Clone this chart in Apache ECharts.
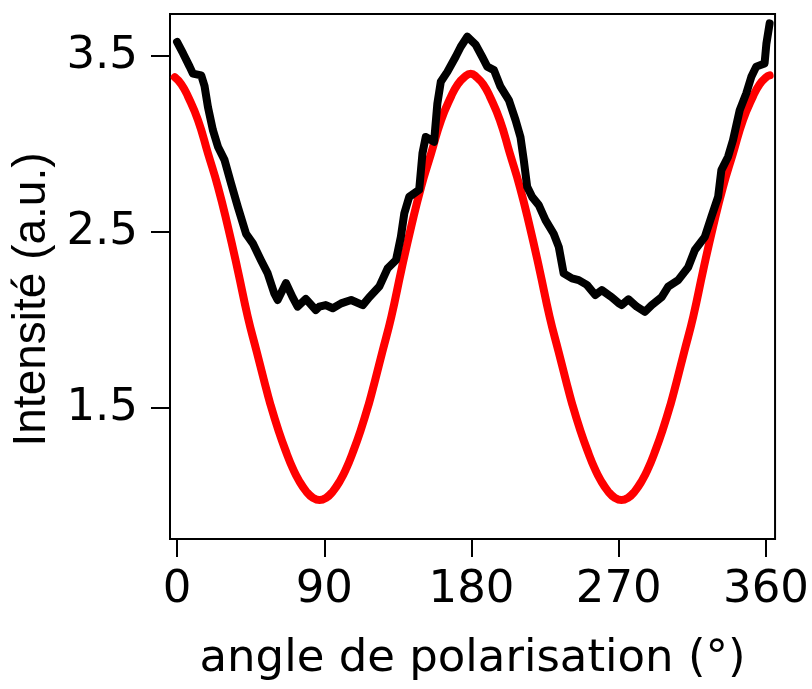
<!DOCTYPE html>
<html>
<head>
<meta charset="utf-8">
<script src="https://cdn.jsdelivr.net/npm/echarts@6/dist/echarts.min.js"></script>
<style>
html,body{margin:0;padding:0;background:#fff;}
#chart{width:812px;height:689px;}
</style>
</head>
<body>
<div id="chart"></div>
<script>
var xTicks = [0, 90, 180, 270, 360];
var yTicks = [1.5, 2.5, 3.5];

var redAngles = [-1.4,2.6,6.7,12.8,18.9,25,31.1,37.1,43.2,48.7,53.1,57.1,62.1,67.1,70.6,74.4,79.1,83.1,87.1,
  91.1,95.1,99.8,103.6,107.1,112.1,117.1,121.1,125.5,131,137.1,143.1,149.2,155.3,161.4,167.5,171.6,175.6,179.5,
  183.1,187.1,191.2,197.3,203.4,209.5,215.6,221.6,227.7,233.2,237.6,241.6,246.6,251.6,255.1,258.9,263.6,267.6,271.6,
  275.6,279.6,284.3,288.1,291.6,296.6,301.6,305.6,310,315.5,321.6,327.6,333.7,339.8,345.9,352,356.1,360.1,362.2];
var redValues = [3.38,3.34,3.27,3.136,2.947,2.757,2.53,2.284,2.02,1.82,1.66,1.52,1.37,1.24,1.16,1.09,1.025,0.99,0.977,
  0.99,1.025,1.09,1.16,1.24,1.37,1.52,1.66,1.82,2.02,2.284,2.53,2.757,2.947,3.136,3.27,3.34,3.38,3.40,
  3.38,3.34,3.27,3.136,2.947,2.757,2.53,2.284,2.02,1.82,1.66,1.52,1.37,1.24,1.16,1.09,1.025,0.99,0.977,
  0.99,1.025,1.09,1.16,1.24,1.37,1.52,1.66,1.82,2.02,2.284,2.53,2.757,2.947,3.136,3.27,3.34,3.38,3.39];

var blackAngles = [0,3.7,7.7,9.7,14.8,16.8,18.9,21.9,25,29,33,37.1,42.2,46.3,51.3,55.4,59.5,61.5,66.6,70.6,73.7,78.7,84.8,87,90.9,
  95.2,100.3,106.4,113.5,117.5,123.6,128.7,133.8,136.8,138.9,141.9,148,150,152,157.1,159.1,161.2,165.2,170.3,173.4,177.4,
  182.5,186.5,189.6,193.7,197.7,202.8,206.9,209.9,211.9,214,217,221.1,225.2,230.2,233.3,236.3,241.4,245.5,250.5,255.6,259.6,265.7,270,
  271.8,275.9,281,286,290.1,296.2,300.2,306.3,312.4,316.5,322.6,326.6,330.7,332.7,336.8,339.8,343.9,347.9,351,354,359.1,360.2,362.2];
var blackValues = [3.58,3.515,3.44,3.40,3.39,3.33,3.21,3.08,2.985,2.91,2.777,2.644,2.49,2.436,2.34,2.265,2.15,2.114,2.21,2.13,2.076,2.12,2.057,2.076,2.085,
  2.067,2.095,2.114,2.085,2.13,2.19,2.294,2.34,2.473,2.606,2.70,2.74,2.947,3.04,3.013,3.23,3.354,3.41,3.496,3.553,3.61,
  3.565,3.496,3.44,3.42,3.326,3.25,3.136,3.04,2.91,2.757,2.70,2.653,2.568,2.49,2.416,2.265,2.237,2.227,2.20,2.142,2.17,2.13,2.095,
  2.085,2.118,2.076,2.047,2.085,2.13,2.19,2.227,2.30,2.398,2.473,2.587,2.70,2.852,2.928,3.023,3.193,3.288,3.382,3.44,3.458,3.57,3.686];

function zip(a, b) { return a.map(function (v, i) { return [v, b[i]]; }); }

var wideFont = "'DejaVu Sans', sans-serif";
var font = "'Liberation Sans', Arial, sans-serif";
var chart = echarts.init(document.getElementById('chart'), null, {renderer: 'canvas'});
chart.setOption({
  animation: false,
  backgroundColor: '#fff',
  grid: {left: 170, top: 14, right: 35, bottom: 150, show: true, borderColor: '#000', borderWidth: 2, backgroundColor: 'transparent'},
  xAxis: {
    type: 'value', min: -4.3, max: 365.5,
    name: 'angle de polarisation (°)', nameLocation: 'middle', nameGap: 98,
    nameTextStyle: {fontFamily: wideFont, fontSize: 45, color: '#000'},
    axisLine: {show: true, onZero: false, lineStyle: {color: '#000', width: 2}},
    axisTick: {show: true, length: 18, lineStyle: {color: '#000', width: 2}, customValues: xTicks},
    axisLabel: {fontFamily: wideFont, fontSize: 45, color: '#000', margin: 29, customValues: xTicks},
    splitLine: {show: false}
  },
  yAxis: {
    type: 'value', min: 0.756, max: 3.739,
    name: 'Intensité (a.u.)', nameLocation: 'middle', nameGap: 108,
    nameTextStyle: {fontFamily: font, fontSize: 46, color: '#000', padding: [0, 46, 0, 0]},
    axisLine: {show: true, onZero: false, lineStyle: {color: '#000', width: 2}},
    axisTick: {show: true, length: 19, lineStyle: {color: '#000', width: 2}, customValues: yTicks},
    axisLabel: {fontFamily: wideFont, fontSize: 45, color: '#000', margin: 32, customValues: yTicks,
      formatter: function (v) { return v.toFixed(1); }},
    splitLine: {show: false}
  },
  series: [
    {type: 'line', data: zip(redAngles, redValues), smooth: 0.5, showSymbol: false,
     lineStyle: {color: '#ff0000', width: 8, cap: 'round', join: 'round'}},
    {type: 'line', data: zip(blackAngles, blackValues), showSymbol: false,
     lineStyle: {color: '#000000', width: 8, cap: 'round', join: 'round'}}
  ]
});
</script>
</body>
</html>
